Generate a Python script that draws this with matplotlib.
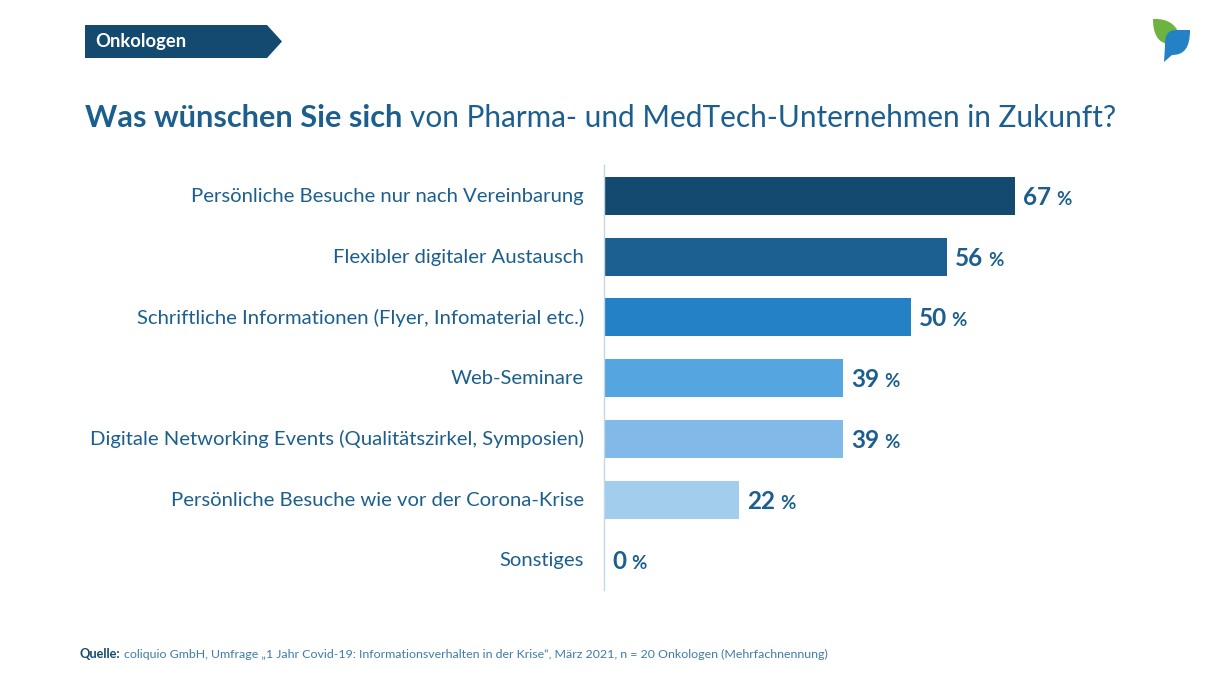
import matplotlib
matplotlib.use('Agg')
import matplotlib.pyplot as plt
from matplotlib.patches import PathPatch, Polygon
from matplotlib.path import Path
from matplotlib.transforms import ScaledTranslation

categories = ['Persönliche Besuche nur nach Vereinbarung', 'Flexibler digitaler Austausch',
              'Schriftliche Informationen (Flyer, Infomaterial etc.)', 'Web-Seminare',
              'Digitale Networking Events (Qualitätszirkel, Symposien)',
              'Persönliche Besuche wie vor der Corona-Krise', 'Sonstiges']
values = [67, 56, 50, 39, 39, 22, 0]
bar_colors = ['#154a70', '#1c6092', '#2581c6', '#55a5e0', '#81bae8', '#a3cded', '#c8dff2']

dark = '#154a70'
mid = '#1c5f8f'
plt.rcParams['font.family'] = ['Lato', 'DejaVu Sans']

fig = plt.figure(figsize=(12.1, 6.8), dpi=100, facecolor='white')
renderer = fig.canvas.get_renderer()


def text_width(t):
    # width in pixels, used to chain two text styles on one baseline
    return t.get_window_extent(renderer).width


# axes placed so one unit is about 6.13 px and the bars sit like the original
ax = fig.add_axes([604 / 1210, (680 - 590) / 680, 606 / 1210, 425 / 680])
ax.set_xlim(0, 606 / 6.13)
ax.set_ylim(6.49, -0.51)
ax.barh(range(len(values)), values, height=0.626, color=bar_colors)
ax.set_yticks(range(len(categories)))
ax.set_yticklabels(categories, fontsize=14.6, color=mid)
ax.tick_params(axis='y', length=0, pad=14.5)
for lab in ax.get_yticklabels():
    lab.set_transform(lab.get_transform() + ScaledTranslation(0, 1 / 100, fig.dpi_scale_trans))
ax.set_xticks([])
for s in ['top', 'right', 'bottom']:
    ax.spines[s].set_visible(False)
ax.spines['left'].set_color('#c3d6e6')
ax.spines['left'].set_linewidth(1)
ax.patch.set_alpha(0)

for i, v in enumerate(values):
    t = ax.annotate(str(v), xy=(v, i), xytext=(8, -9), textcoords='offset pixels',
                    fontsize=17.5, fontweight='bold', color=mid, va='baseline', ha='left')
    ax.annotate('%', xy=(v, i), xytext=(8 + text_width(t) + 5, -9), textcoords='offset pixels',
                fontsize=13.5, fontweight='bold', color=mid, va='baseline', ha='left')

# overlay in pixel coordinates for the header, logo and source line
ov = fig.add_axes([0, 0, 1, 1])
ov.set_xlim(0, 1210)
ov.set_ylim(680, 0)
ov.axis('off')
ov.patch.set_alpha(0)

ov.add_patch(Polygon([(85, 25), (267, 25), (282, 41.5), (267, 58), (85, 58)], color=dark, lw=0))
ov.text(95, 47, 'Onkologen', color='white', fontsize=13.2, fontweight='bold', va='baseline')

t1 = ov.text(85, 127, 'Was wünschen Sie sich', color=mid, fontsize=22.15, fontweight='bold')
ov.text(85 + text_width(t1) + 8, 127, 'von Pharma- und MedTech-Unternehmen in Zukunft?',
        color=mid, fontsize=21.4)

s1 = ov.text(79, 658, 'Quelle:', color=dark, fontsize=9.2, fontweight='bold')
ov.text(79 + text_width(s1) + 4, 658,
        'coliquio GmbH, Umfrage „1 Jahr Covid-19: Informationsverhalten in der Krise“, März 2021, n = 20 Onkologen (Mehrfachnennung)',
        color='#3f7cab', fontsize=8.95)

# logo
green = Path([(1153, 19), (1168, 18), (1180, 26), (1179, 40), (1172, 46), (1153, 48), (1153, 19)],
             [Path.MOVETO, Path.CURVE4, Path.CURVE4, Path.CURVE4, Path.CURVE4, Path.CURVE4, Path.CURVE4])
ov.add_patch(PathPatch(green, fc='#6db33f', lw=0))
blue = Path([(1190, 30), (1190, 48), (1184, 55), (1172, 55), (1164, 62), (1165, 46), (1164, 30), (1176, 30), (1190, 30)],
            [Path.MOVETO, Path.CURVE4, Path.CURVE4, Path.CURVE4, Path.LINETO,
             Path.LINETO, Path.CURVE3, Path.CURVE3, Path.LINETO])
ov.add_patch(PathPatch(blue, fc='#2581c6', lw=0))

fig.savefig('out.png', dpi=100)
